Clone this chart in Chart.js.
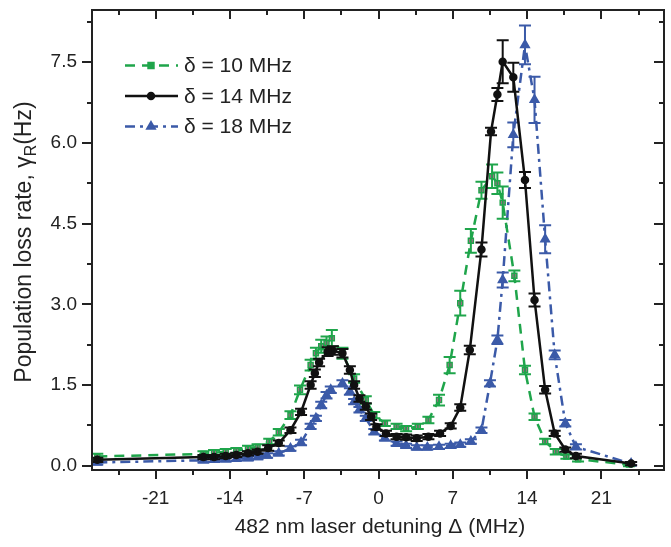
<!DOCTYPE html>
<html>
<head>
<meta charset="utf-8">
<script src="https://cdn.jsdelivr.net/npm/chart.js@4.4.0/dist/chart.umd.min.js"></script>
<style>
  html, body { margin: 0; padding: 0; background: #fff; }
  #wrap { width: 671px; height: 547px; position: relative; }
</style>
</head>
<body>
<div id="wrap"><canvas id="grafica"></canvas></div>
<script>
// Datos (detuning en MHz, tasa en Hz)
const etiquetas = ["δ = 10 MHz", "δ = 14 MHz", "δ = 18 MHz"];

const x10 = [-26.5, -16.5, -15.5, -14.4, -13.4, -12.3, -11.4, -10.3, -9.4, -8.3, -7.4, -6.4, -5.9, -5.4, -4.9, -4.4, -3.4, -2.3, -1.2, -0.4, 0.6, 1.7, 2.6, 3.7, 4.7, 5.7, 6.7, 7.7, 8.7, 9.7, 10.7, 11.2, 11.7, 12.8, 13.8, 14.7, 15.7, 16.7, 17.7, 18.8, 23.6];
const y10 = [0.17, 0.22, 0.24, 0.26, 0.28, 0.32, 0.35, 0.45, 0.62, 0.94, 1.41, 1.87, 2.09, 2.22, 2.28, 2.37, 2.09, 1.62, 1.22, 0.94, 0.79, 0.73, 0.69, 0.73, 0.85, 1.22, 1.87, 3.02, 4.18, 5.12, 5.38, 5.25, 4.89, 3.53, 1.78, 0.91, 0.45, 0.26, 0.17, 0.12, 0.02];
const e10 = [0.05, 0.05, 0.05, 0.05, 0.05, 0.05, 0.05, 0.05, 0.06, 0.07, 0.08, 0.1, 0.1, 0.12, 0.12, 0.15, 0.1, 0.08, 0.07, 0.06, 0.05, 0.05, 0.05, 0.05, 0.06, 0.1, 0.15, 0.23, 0.22, 0.16, 0.22, 0.2, 0.3, 0.1, 0.08, 0.06, 0.05, 0.05, 0.04, 0.04, 0.03];

const x14 = [-26.5, -16.5, -15.5, -14.4, -13.4, -12.3, -11.4, -10.4, -9.4, -8.3, -7.3, -6.4, -6.0, -5.6, -4.8, -4.3, -3.4, -2.7, -2.3, -1.8, -1.2, -0.7, -0.2, 0.7, 1.7, 2.6, 3.6, 4.7, 5.8, 6.8, 7.7, 8.6, 9.7, 10.6, 11.2, 11.7, 12.7, 13.8, 14.7, 15.7, 16.6, 17.6, 18.6, 23.8];
const y14 = [0.11, 0.16, 0.16, 0.18, 0.2, 0.23, 0.26, 0.33, 0.42, 0.66, 1.0, 1.5, 1.72, 1.92, 2.12, 2.14, 2.09, 1.78, 1.5, 1.25, 1.1, 0.91, 0.72, 0.6, 0.54, 0.53, 0.51, 0.54, 0.6, 0.74, 1.08, 2.15, 4.02, 6.21, 6.9, 7.51, 7.22, 5.31, 3.08, 1.41, 0.6, 0.3, 0.18, 0.04];
const e14 = [0.04, 0.04, 0.04, 0.04, 0.04, 0.04, 0.04, 0.05, 0.05, 0.05, 0.06, 0.07, 0.07, 0.07, 0.08, 0.08, 0.08, 0.07, 0.07, 0.06, 0.06, 0.06, 0.05, 0.05, 0.05, 0.05, 0.05, 0.05, 0.05, 0.05, 0.06, 0.08, 0.13, 0.07, 0.12, 0.4, 0.27, 0.15, 0.12, 0.07, 0.05, 0.04, 0.04, 0.03];

const x18 = [-26.5, -16.5, -15.5, -14.4, -13.4, -12.3, -11.4, -10.5, -9.4, -8.3, -7.3, -6.4, -5.9, -5.4, -4.9, -4.5, -3.4, -2.7, -2.3, -1.8, -1.2, -0.4, 0.6, 1.7, 2.6, 3.6, 4.6, 5.7, 6.8, 7.7, 8.7, 9.7, 10.5, 11.2, 11.7, 12.7, 13.8, 14.7, 15.7, 16.6, 17.6, 18.6, 23.8];
const y18 = [0.06, 0.1, 0.11, 0.12, 0.13, 0.14, 0.16, 0.19, 0.23, 0.32, 0.43, 0.73, 0.88, 1.13, 1.31, 1.41, 1.53, 1.38, 1.19, 1.04, 0.88, 0.63, 0.51, 0.41, 0.37, 0.34, 0.34, 0.35, 0.37, 0.39, 0.45, 0.66, 1.53, 2.34, 3.45, 6.15, 7.82, 6.8, 4.21, 2.06, 0.79, 0.35, 0.04];
const e18 = [0.04, 0.04, 0.04, 0.04, 0.04, 0.04, 0.04, 0.04, 0.04, 0.04, 0.05, 0.05, 0.05, 0.06, 0.06, 0.06, 0.06, 0.06, 0.05, 0.05, 0.05, 0.05, 0.04, 0.04, 0.04, 0.04, 0.04, 0.04, 0.04, 0.04, 0.04, 0.05, 0.06, 0.08, 0.14, 0.23, 0.36, 0.43, 0.26, 0.08, 0.06, 0.05, 0.03];

// Ticks de los ejes
const ticksX = [-21, -14, -7, 0, 7, 14, 21];
const ticksXmenor = [-24.5, -17.5, -10.5, -3.5, 3.5, 10.5, 17.5, 24.5];
const ticksY = [0, 1.5, 3.0, 4.5, 6.0, 7.5];
const ticksYmenor = [0.75, 2.25, 3.75, 5.25, 6.75, 8.25];

const errores = [e10, e14, e18];

const VERDE = "#1fa54b";
const NEGRO = "#111111";
const AZUL = "#3b5aa8";
const ROSA = "#d0559a";
const FUENTE = '"Liberation Sans", Arial, sans-serif';

const puntos = (xs, ys) => xs.map((x, i) => ({ x, y: ys[i] }));

// Barras de error, dibujadas con las escalas del chart
const barrasError = {
  id: "barrasError",
  afterDatasetDraw(chart, args) {
    const errs = errores[args.index];
    const ds = chart.data.datasets[args.index];
    const sx = chart.scales.x, sy = chart.scales.y;
    const ctx = chart.ctx;
    const a = chart.chartArea;
    ctx.save();
    ctx.beginPath();
    ctx.rect(a.left, a.top, a.right - a.left, a.bottom - a.top);
    ctx.clip();
    ctx.strokeStyle = ds.borderColor;
    ctx.lineWidth = 2;
    ctx.setLineDash([]);
    ds.data.forEach((p, i) => {
      const px = sx.getPixelForValue(p.x);
      const top = sy.getPixelForValue(p.y + errs[i]);
      const bot = sy.getPixelForValue(p.y - errs[i]);
      ctx.beginPath();
      ctx.moveTo(px, top); ctx.lineTo(px, bot);
      ctx.moveTo(px - 6, top); ctx.lineTo(px + 6, top);
      ctx.moveTo(px - 6, bot); ctx.lineTo(px + 6, bot);
      ctx.stroke();
    });
    ctx.restore();
  }
};

// Marco, ticks, leyenda y titulos de ejes
const decoracion = {
  id: "decoracion",
  afterDraw(chart) {
    const ctx = chart.ctx;
    const a = chart.chartArea;
    const sx = chart.scales.x, sy = chart.scales.y;
    ctx.save();
    ctx.strokeStyle = "#222";
    ctx.lineWidth = 2;
    ctx.setLineDash([]);
    ctx.strokeRect(a.left, a.top, a.right - a.left, a.bottom - a.top);

    const tickX = (v, len) => {
      const px = Math.round(sx.getPixelForValue(v));
      ctx.beginPath();
      ctx.moveTo(px, a.bottom); ctx.lineTo(px, a.bottom + len);
      ctx.moveTo(px, a.top); ctx.lineTo(px, a.top + len);
      ctx.stroke();
    };
    const tickY = (v, len) => {
      const py = Math.round(sy.getPixelForValue(v));
      ctx.beginPath();
      ctx.moveTo(a.left, py); ctx.lineTo(a.left - len, py);
      ctx.moveTo(a.right, py); ctx.lineTo(a.right - len, py);
      ctx.stroke();
    };
    ticksX.forEach(v => tickX(v, 9));
    ticksXmenor.forEach(v => tickX(v, 5));
    ticksY.forEach(v => tickY(v, 10));
    ticksYmenor.forEach(v => tickY(v, 5));

    // Leyenda dentro del area
    const filas = [65.5, 96, 126.5];
    chart.data.datasets.forEach((ds, i) => {
      const y = filas[i];
      ctx.strokeStyle = ds.borderColor;
      ctx.lineWidth = 2.5;
      ctx.setLineDash(ds.borderDash || []);
      ctx.beginPath();
      ctx.moveTo(125, y); ctx.lineTo(178, y);
      ctx.stroke();
      ctx.setLineDash([]);
      ctx.fillStyle = ds.borderColor;
      ctx.strokeStyle = ds.borderColor;
      Chart.helpers.drawPoint(ctx, {
        pointStyle: ds.pointStyle, radius: ds.pointRadius, rotation: 0, borderWidth: 1
      }, 151, y);
      ctx.fillStyle = "#222";
      ctx.font = "21px " + FUENTE;
      ctx.textAlign = "left";
      ctx.textBaseline = "middle";
      ctx.fillText(etiquetas[i], 184, y + 1);
    });

    // Titulo eje X
    ctx.fillStyle = "#222";
    ctx.font = "21px " + FUENTE;
    ctx.textAlign = "center";
    ctx.textBaseline = "middle";
    ctx.fillText("482 nm laser detuning Δ (MHz)", 380, 527);

    // Titulo eje Y con subindice
    ctx.translate(25, 242);
    ctx.rotate(-Math.PI / 2);
    const t1 = "Population loss rate, γ", t2 = "R", t3 = "(Hz)";
    ctx.font = "23px " + FUENTE;
    const w1 = ctx.measureText(t1).width, w3 = ctx.measureText(t3).width;
    ctx.font = "16px " + FUENTE;
    const w2 = ctx.measureText(t2).width;
    let x0 = -(w1 + w2 + w3) / 2;
    ctx.textAlign = "left";
    ctx.font = "23px " + FUENTE;
    ctx.fillText(t1, x0, 0);
    ctx.font = "16px " + FUENTE;
    ctx.fillText(t2, x0 + w1, 7);
    ctx.font = "23px " + FUENTE;
    ctx.fillText(t3, x0 + w1 + w2, 0);
    ctx.restore();
  }
};

new Chart(document.getElementById("grafica"), {
  type: "line",
  data: {
    datasets: [
      {
        label: etiquetas[0],
        data: puntos(x10, y10),
        borderColor: VERDE,
        borderWidth: 2.5,
        borderDash: [10, 7],
        pointStyle: "rect",
        pointRadius: 3.5,
        pointBackgroundColor: ROSA,
        pointBorderColor: VERDE,
        pointBorderWidth: 1.5,
        tension: 0,
        order: 1
      },
      {
        label: etiquetas[1],
        data: puntos(x14, y14),
        borderColor: NEGRO,
        borderWidth: 2.5,
        pointStyle: "circle",
        pointRadius: 3,
        pointBackgroundColor: NEGRO,
        pointBorderColor: NEGRO,
        tension: 0,
        order: 0
      },
      {
        label: etiquetas[2],
        data: puntos(x18, y18),
        borderColor: AZUL,
        borderWidth: 2.5,
        borderDash: [10, 5, 3, 5],
        pointStyle: "triangle",
        pointRadius: 4,
        pointBackgroundColor: AZUL,
        pointBorderColor: AZUL,
        tension: 0,
        order: 2
      }
    ]
  },
  options: {
    responsive: true,
    maintainAspectRatio: false,
    animation: false,
    layout: { padding: { left: 0, right: 7, top: 10, bottom: 0 } },
    plugins: { legend: { display: false }, tooltip: { enabled: false } },
    scales: {
      x: {
        type: "linear",
        min: -27,
        max: 26.9,
        grid: { display: false, drawTicks: false },
        border: { display: false },
        afterBuildTicks: s => { s.ticks = ticksX.map(v => ({ value: v })); },
        afterFit: s => { s.height = 77; s.paddingLeft = 0; s.paddingRight = 0; },
        ticks: {
          padding: 17,
          maxRotation: 0,
          color: "#222",
          font: { family: FUENTE, size: 19 },
          callback: v => String(v)
        }
      },
      y: {
        min: -0.08,
        max: 8.47,
        grid: { display: false, drawTicks: false },
        border: { display: false },
        afterBuildTicks: s => { s.ticks = ticksY.map(v => ({ value: v })); },
        afterFit: s => { s.width = 92; s.paddingTop = 0; s.paddingBottom = 0; },
        ticks: {
          padding: 15,
          color: "#222",
          font: { family: FUENTE, size: 19 },
          callback: v => Number(v).toFixed(1)
        }
      }
    }
  },
  plugins: [barrasError, decoracion]
});
</script>
</body>
</html>
